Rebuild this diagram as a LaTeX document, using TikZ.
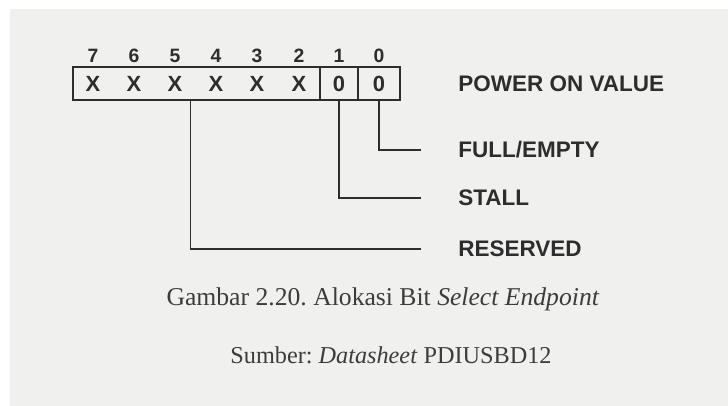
\documentclass[tikz,border=0pt]{standalone}
\usepackage{fontspec}
\setmainfont{Liberation Serif}
\setsansfont{Liberation Sans}
\usepackage{tikz}
\usetikzlibrary{positioning, calc}
\definecolor{scangray}{RGB}{240, 240, 239}
\definecolor{inkgray}{RGB}{45, 45, 45}
\definecolor{capgray}{RGB}{60, 60, 60}
\frenchspacing

\begin{document}
\begin{tikzpicture}[
  x=0.02cm, y=-0.02cm,
  bitnum/.style={font=\sffamily\bfseries\fontsize{11}{12}\selectfont, text=inkgray, inner sep=0pt},
  bitval/.style={font=\sffamily\bfseries\fontsize{12.5}{14}\selectfont, text=inkgray, inner sep=0pt},
  field/.style={rectangle, draw=inkgray, line width=1.4pt, outer sep=0pt, inner sep=0pt, minimum height=0.66cm, font=\sffamily\bfseries\fontsize{12.5}{14}\selectfont, text=inkgray},
  lbl/.style={anchor=west, inner sep=0pt, font=\sffamily\bfseries\fontsize{12.8}{14}\selectfont, text=inkgray},
  lead/.style={draw=inkgray, line width=1.1pt, shorten >=0.74cm},
  caption/.style={anchor=base, inner sep=0pt, text=capgray}
]
\useasboundingbox (0,0) rectangle (728,406);
\fill[white] (0,0) rectangle (728,406);
\fill[scangray] (10,9) rectangle (728,406);

% Register fields
\node[field, minimum width=4.94cm] (xfield) at (196.5,83.5) {};
\node[field, minimum width=0.76cm, right=0pt of xfield] (f1) {0};
\node[field, minimum width=0.84cm, right=0pt of f1] (f0) {0};

% Bit numbers
\node[bitnum] (b7) at (93,56) {7};
\node[bitnum] (b6) at (134,56) {6};
\node[bitnum] (b5) at (175,56) {5};
\node[bitnum] (b4) at (216,56) {4};
\node[bitnum] (b3) at (257,56) {3};
\node[bitnum] (b2) at (299,56) {2};
\node[bitnum] (b1) at (f1.center |- b7) {1};
\node[bitnum] (b0) at (f0.center |- b7) {0};

% Power on values
\node[bitval] (v7) at (b7 |- xfield) {X};
\node[bitval] (v6) at (b6 |- xfield) {X};
\node[bitval] (v5) at (b5 |- xfield) {X};
\node[bitval] (v4) at (b4 |- xfield) {X};
\node[bitval] (v3) at (b3 |- xfield) {X};
\node[bitval] (v2) at (b2 |- xfield) {X};

% Labels
\node[lbl] (powerval) at (458,84) {POWER ON VALUE};
\node[lbl] (fullempty) at (458,150) {FULL/EMPTY};
\node[lbl] (stall) at (458,198) {STALL};
\node[lbl] (reserved) at (458,249) {RESERVED};

% Leaders
\draw[lead] (f0.south) |- (fullempty.west);
\draw[lead] (f1.south) |- (stall.west);
\draw[lead] ($(xfield.south)+(-6,0)$) |- (reserved.west);

% Caption
\node[caption, font=\fontsize{14.6}{16}\selectfont] (cap1) at (383,305) {Gambar 2.20. Alokasi Bit \textit{Select Endpoint}};
\node[caption, font=\fontsize{13.8}{16}\selectfont] (cap2) at (391,363) {Sumber: \textit{Datasheet} PDIUSBD12};

\end{tikzpicture}
\end{document}
